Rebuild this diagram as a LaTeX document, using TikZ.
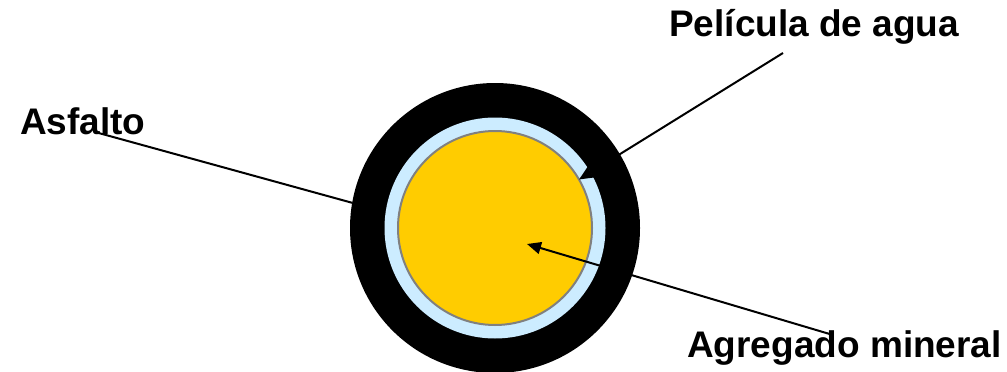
\documentclass[tikz,border=0pt]{standalone}
\usepackage{fontspec}
\setmainfont{Liberation Sans}
\usetikzlibrary{arrows.meta}
\definecolor{filmblue}{RGB}{204,236,255}
\definecolor{aggyellow}{RGB}{255,204,0}
\definecolor{aggedge}{RGB}{128,128,128}
\tikzset{
  layer/.style={circle, inner sep=0pt, outer sep=0pt},
  lbl/.style={font=\fontsize{37}{41}\selectfont\bfseries, inner sep=0pt, anchor=base west},
  lead/.style={line width=2pt, black},
  arr/.style={lead, -{Triangle[length=14pt, width=12pt]}}
}

\begin{document}
\begin{tikzpicture}[x=1pt, y=-1pt]
  \useasboundingbox (0,0) rectangle (1007,372);

  % Particle: asphalt, water film, mineral aggregate
  \node[layer, fill=black, minimum size=290pt] (asph) at (495,228) {};
  \node[layer, fill=filmblue, minimum size=221pt] (film) at (495,228) {};
  \node[layer, fill=aggyellow, draw=aggedge, line width=2pt,
        minimum size=194pt] (agg) at (495,228) {};

  % Labels
  \node[lbl] (asflbl) at (20,134) {Asfalto};
  \node[lbl] (filmlbl) at (669,36) {Película de agua};
  \node[lbl] (agglbl) at (687,357) {Agregado mineral};

  % Leader ends
  \coordinate (asfstart) at (95,132);
  \coordinate (filmstart) at (783,53);
  \coordinate (aggstart) at (833,335);
  \coordinate (aggtip) at (527,244);

  \draw[lead] (asfstart) -- (asph.170);
  \draw[arr] (filmstart) -- (agg.30);
  \draw[arr] (aggstart) -- (aggtip);
\end{tikzpicture}
\end{document}
